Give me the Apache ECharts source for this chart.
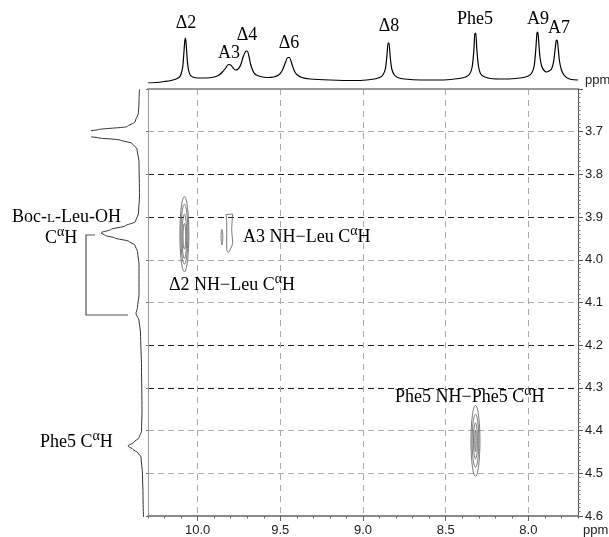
<!DOCTYPE html>
<html><head><meta charset="utf-8">
<script src="https://cdn.jsdelivr.net/npm/echarts@6/dist/echarts.min.js"></script>
<style>html,body{margin:0;padding:0;background:#fff}#c{width:609px;height:537px}</style>
</head><body><div id="c"></div>
<script>
// ---- top 1D projection (NH region): chemical shift (ppm) and intensity
const topPpm = [10.30,10.25,10.20,10.16,10.13,10.11,10.10,10.09,10.083,10.077,10.073,10.068,10.062,10.055,10.045,10.03,10.00,9.95,9.90,9.87,9.85,9.83,9.815,9.80,9.785,9.77,9.755,9.74,9.725,9.71,9.70,9.69,9.68,9.665,9.65,9.62,9.58,9.54,9.51,9.49,9.47,9.455,9.445,9.43,9.415,9.40,9.37,9.32,9.20,9.05,8.98,8.93,8.90,8.88,8.865,8.855,8.848,8.843,8.836,8.826,8.81,8.79,8.75,8.65,8.55,8.47,8.42,8.38,8.355,8.34,8.33,8.324,8.318,8.312,8.302,8.29,8.27,8.23,8.15,8.08,8.03,8.00,7.98,7.965,7.955,7.948,7.943,7.937,7.93,7.92,7.905,7.89,7.875,7.86,7.848,7.838,7.832,7.826,7.82,7.812,7.80,7.785,7.77,7.74,7.70];
const topInt = [-2,-1.5,-0.5,0.5,2,4,7,14,28,41,43,34,20,11,6,4,3,3,4,6,9,13,16.5,16,13,11,12,16,24,29.5,30,25,17,10,6.5,4.5,3.5,4,6,10,18,23.5,23.5,17,10,6.5,3.5,2,1,0.5,1,2,3.5,6,12,26,38,38,25,12,6,3.5,2,1,1,1.5,2.5,4,7,14,30,47,48,32,15,7.5,4.5,2.5,2,2.5,3.5,5,8,15,32,48,49,38,24,15,10.5,9,10,12,19,32,40,41,33,20,11,6,3.5,1.5,1];
const topPeakNames = ['Δ2','A3','Δ4','Δ6','Δ8','Phe5','A9','A7'];

// ---- left 1D projection (Cα H region)
const leftPpm = [3.60,3.63,3.655,3.677,3.688,3.695,3.700,3.705,3.710,3.714,3.719,3.727,3.74,3.77,3.85,3.89,3.91,3.92,3.928,3.936,3.942,3.948,3.956,3.965,3.98,4.01,4.08,4.11,4.125,4.14,4.17,4.25,4.35,4.40,4.415,4.425,4.434,4.442,4.45,4.46,4.50,4.55,4.60];
const leftInt = [3.5,4,4.5,8,16,45,60,70,58,45,23,11,6,4,3.5,4.5,7.5,18,32,42,38,28,14,8,5.5,4,4,5.5,7,4,2.5,1.5,1,1.5,4,9,15,10,5,2,0.5,0,-0.5];

// ---- 2D cross peaks: contour ellipses [NH ppm, CαH ppm, half-width ppm, half-height ppm]
const crossPeakContours = [
  [10.08, 3.940, 0.027, 0.088],
  [10.08, 3.940, 0.021, 0.070],
  [10.08, 3.945, 0.014, 0.052],
  [10.08, 3.945, 0.008, 0.030],
  [9.853, 3.947, 0.005, 0.018],
  [8.32, 4.424, 0.027, 0.083],
  [8.32, 4.424, 0.020, 0.062],
  [8.32, 4.424, 0.012, 0.042],
  [8.32, 4.424, 0.004, 0.025]
];
const a3ContourNH = [9.828,9.788,9.794,9.788,9.815,9.824,9.824,9.828];
const a3ContourCH = [3.894,3.893,3.929,3.960,3.983,3.976,3.913,3.894];

// ---- axis settings
const xMin = 7.7, xMax = 10.3;
const yMin = 3.6, yMax = 4.6;
const yGridColors = ['#aaa','#222','#222','#aaa','#aaa','#222','#222','#aaa','#aaa'];

const SERIF = '"Liberation Serif","Times New Roman",serif';
const SANS = '"Liberation Sans",Arial,sans-serif';

function zip(a, b) { return a.map((v, i) => [v, b[i]]); }

const richStyles = {
  n: { fontSize: 18, fontFamily: SERIF, fill: '#000', lineHeight: 26 },
  s: { fontSize: 14, fontFamily: SERIF, fill: '#000', lineHeight: 14, verticalAlign: 'top' },
  sc: { fontSize: 13, fontFamily: SERIF, fill: '#000', lineHeight: 21, padding: [4, 0, 0, 0], verticalAlign: 'middle' }
};
function txt(x, y, text, align) {
  return { type: 'text', x: x, y: y, z: 100,
    style: { text: text, rich: richStyles, fill: '#000', font: '18px ' + SERIF,
      align: align || 'left', verticalAlign: 'middle' } };
}
function plain(x, y, text) {
  return { type: 'text', x: x, y: y, z: 100,
    style: { text: text, fill: '#000', font: '18px ' + SERIF, align: 'center', verticalAlign: 'middle' } };
}

const topLabelPos = [[186,23],[229,53],[247,35],[289,43],[389,26],[475,19],[538,19],[559,28]];

const chart = echarts.init(document.getElementById('c'), null, { renderer: 'canvas' });
const option = {
  animation: false,
  backgroundColor: '#fff',
  grid: [
    { left: 148, top: 89, width: 430, height: 428 },
    { left: 148, top: 29, width: 430, height: 54 },
    { left: 92, top: 89, width: 53, height: 428 }
  ],
  xAxis: [
    { gridIndex: 0, type: 'value', inverse: true, min: xMin, max: xMax, splitNumber: 5, position: 'bottom',
      axisLine: { onZero: false, lineStyle: { color: '#888', width: 2 } },
      axisTick: { length: 5, lineStyle: { color: '#666' } },
      axisLabel: { formatter: v => v.toFixed(1), showMinLabel: false, showMaxLabel: false,
        fontSize: 13, color: '#222', fontFamily: SANS, margin: 8 },
      splitLine: { show: true, showMinLine: false, showMaxLine: false,
        lineStyle: { type: [6, 5], color: '#aaa', width: 1 } } },
    { gridIndex: 0, type: 'value', inverse: true, min: xMin, max: xMax, interval: 0.1, position: 'bottom',
      axisLine: { show: false, onZero: false }, axisTick: { length: 2.5, lineStyle: { color: '#666' } },
      axisLabel: { show: false }, splitLine: { show: false } },
    { gridIndex: 0, type: 'value', inverse: true, min: xMin, max: xMax, position: 'top',
      axisLine: { onZero: false, lineStyle: { color: '#999', width: 2 } }, axisTick: { show: false },
      axisLabel: { show: false }, splitLine: { show: false } },
    { gridIndex: 1, type: 'value', inverse: true, min: xMin, max: xMax, show: false },
    { gridIndex: 2, type: 'value', inverse: true, min: -2, max: 51, show: false }
  ],
  yAxis: [
    { gridIndex: 0, type: 'value', inverse: true, min: yMin, max: yMax, interval: 0.1, position: 'right',
      axisLine: { onZero: false, lineStyle: { color: '#555', width: 1 } },
      axisTick: { length: 5, lineStyle: { color: '#555' } },
      minorTick: { show: true, splitNumber: 10, length: 2.5, lineStyle: { color: '#777' } },
      axisLabel: { formatter: v => v.toFixed(1), showMinLabel: false, fontSize: 13, color: '#222',
        fontFamily: SANS, margin: 7 },
      splitLine: { show: true, showMinLine: false, showMaxLine: false,
        lineStyle: { type: [6, 4], color: yGridColors, width: 1 } } },
    { gridIndex: 0, type: 'value', inverse: true, min: yMin, max: yMax, interval: 0.1, position: 'left',
      axisLine: { onZero: false, lineStyle: { color: '#999', width: 1 } },
      axisTick: { length: 2, lineStyle: { color: '#777' } },
      axisLabel: { show: false }, splitLine: { show: false } },
    { gridIndex: 1, type: 'value', min: -2, max: 52, show: false },
    { gridIndex: 2, type: 'value', inverse: true, min: yMin, max: yMax, show: false }
  ],
  series: [
    { type: 'line', xAxisIndex: 3, yAxisIndex: 2, data: zip(topPpm, topInt), showSymbol: false,
      smooth: 0.25, lineStyle: { color: '#000', width: 1.2 }, clip: true },
    { type: 'line', xAxisIndex: 4, yAxisIndex: 3, data: zip(leftInt, leftPpm), showSymbol: false,
      smooth: 0.25, smoothMonotone: 'y', lineStyle: { color: '#333', width: 1 }, clip: true },
    { type: 'custom', xAxisIndex: 0, yAxisIndex: 0, data: crossPeakContours, clip: true,
      renderItem: function (params, api) {
        const c = api.coord([api.value(0), api.value(1)]);
        const e = api.coord([api.value(0) + api.value(2), api.value(1) + api.value(3)]);
        return { type: 'ellipse',
          shape: { cx: c[0], cy: c[1], rx: Math.abs(e[0] - c[0]), ry: Math.abs(e[1] - c[1]) },
          style: { fill: 'none', stroke: '#555', lineWidth: 0.8 } };
      } },
    { type: 'line', xAxisIndex: 0, yAxisIndex: 0, data: zip(a3ContourNH, a3ContourCH), showSymbol: false,
      smooth: 0.2, lineStyle: { color: '#555', width: 0.8 } }
  ],
  graphic: [
    ...topPeakNames.map((n, i) => plain(topLabelPos[i][0], topLabelPos[i][1], n)),
    { type: 'text', x: 585, y: 80, style: { text: 'ppm', font: '13px ' + SANS, fill: '#222', align: 'left', verticalAlign: 'middle' } },
    { type: 'text', x: 583, y: 530, style: { text: 'ppm', font: '13px ' + SANS, fill: '#222', align: 'left', verticalAlign: 'middle' } },
    txt(12, 217, '{n|Boc-}{sc|L}{n|-Leu-OH}'),
    txt(45, 238, '{n|C}{s|α}{n|H}'),
    txt(40, 442, '{n|Phe5 C}{s|α}{n|H}'),
    txt(243, 237, '{n|A3 NH−Leu C}{s|α}{n|H}'),
    txt(169, 285, '{n|Δ2 NH−Leu C}{s|α}{n|H}'),
    txt(395, 397, '{n|Phe5 NH−Phe5 C}{s|α}{n|H}'),
    { type: 'polyline', z: 100, shape: { points: [[95,235],[86,235],[86,315],[128,315]] },
      style: { stroke: '#555', lineWidth: 1.2, fill: null } }
  ]
};
chart.setOption(option);
</script>
</body></html>
